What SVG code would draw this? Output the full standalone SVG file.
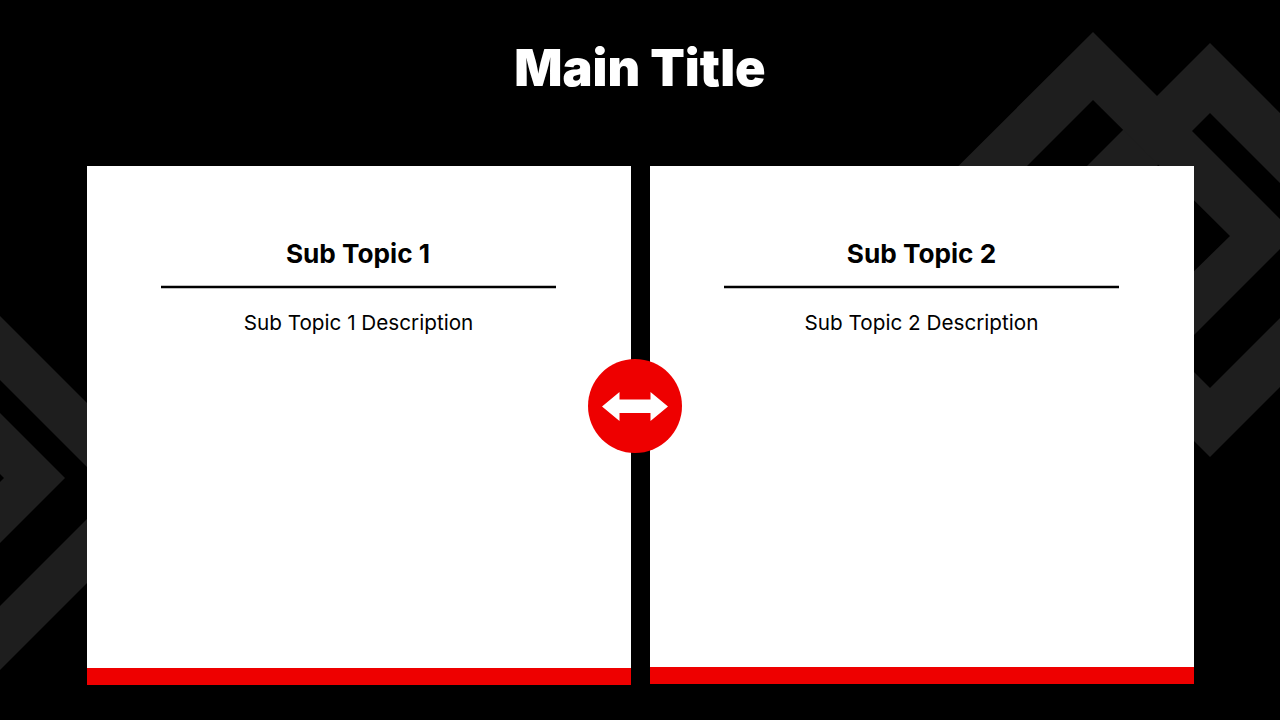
<svg xmlns="http://www.w3.org/2000/svg" width="1280" height="720" viewBox="0 0 1280 720">
<style>
.bg{fill:#000}
.deco{fill:#1e1e1e;fill-rule:evenodd}
.card{fill:#fff}
.bar{fill:#ee0000}
.rule{stroke:#000;stroke-width:2.4;fill:none}
text{font-family:Inter,"Liberation Sans",sans-serif;text-anchor:middle}
.title{font-size:50.400px;font-weight:900;fill:#fff}
.sub{font-size:26.200px;font-weight:700;fill:#000}
.desc{font-size:20.700px;font-weight:400;fill:#000}
</style>
<rect class="bg" width="1280" height="720"/>
<g id="background-pattern">
<path class="deco" d="M1210 43L1417 250L1210 457L1003 250ZM1210 113L1072.500 250.500L1210 388L1347.500 250.500Z"/>
<path class="deco" d="M1093 32L1295 234L1093 436L890 234ZM1093 100L958 235L1093 370L1230 236Z"/>
<path class="deco" d="M-177 493L0 316L177 493L0 670ZM-113 493L0 606L113 493L0 380Z"/>
<path class="deco" d="M-65 478L0 413L65 478L0 543ZM-4 478L0 482L4 478L0 474Z"/>
</g>
<g id="title"><text class="title" x="640" y="86">Main Title</text></g>
<g id="card-1">
<rect class="card" x="87" y="166" width="544" height="519"/>
<rect class="bar" x="87" y="668" width="544" height="17"/>
<text class="sub" x="358" y="263">Sub Topic 1</text>
<line class="rule" x1="161" y1="287" x2="556" y2="287"/>
<text class="desc" x="358.500" y="330">Sub Topic 1 Description</text>
</g>
<g id="card-2">
<rect class="card" x="650" y="166" width="544" height="518"/>
<rect class="bar" x="650" y="667" width="544" height="17"/>
<text class="sub" x="921.500" y="263">Sub Topic 2</text>
<line class="rule" x1="724" y1="287" x2="1119" y2="287"/>
<text class="desc" x="921.500" y="330">Sub Topic 2 Description</text>
</g>
<g id="connector">
<circle class="bar" cx="635" cy="406" r="47"/>
<path fill="#fff" d="M602 406.500L619.500 392V399.500H650.500V392L668 406.500L650.500 421V413H619.500V421Z"/>
</g>
</svg>
